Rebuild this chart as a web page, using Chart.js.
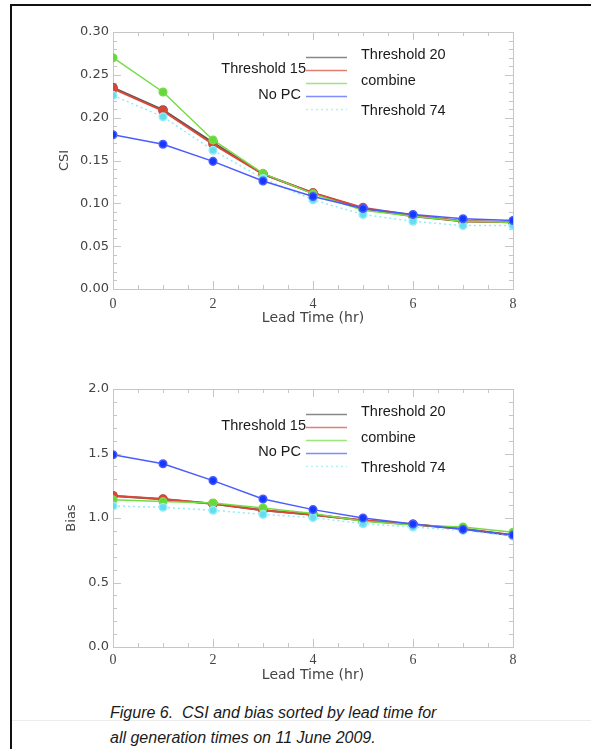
<!doctype html>
<html lang="en">
  <head>
    <meta charset="utf-8">
    <title>CSI and bias by lead time</title>
    <style>
      * { margin: 0; padding: 0; }
      body {
        width: 591px;
        height: 749px;
        position: relative;
        overflow: hidden;
        background: white;
      }
      .frame {
        position: absolute;
        left: 10px;
        top: 4px;
        width: 620px;
        height: 780px;
        border-top: 2px solid #111;
        border-left: 2px solid #111;
      }
      .rule {
        position: absolute;
        left: 12px;
        right: 0;
        top: 720px;
        height: 1px;
        background: #ececec;
      }
      .chartBox { position: absolute; left: 0; }
      .caption {
        position: absolute;
        left: 110px;
        top: 700px;
        font: italic 16px "Liberation Sans", Arial, sans-serif;
        line-height: 25px;
        color: #1a1a1a;
      }
    </style>
  </head>
  <body>
    <div class="frame"></div>
    <div class="rule"></div>
    <div class="chartBox" style="top:0"><canvas id="csiChart" width="591" height="340"></canvas></div>
    <div class="chartBox" style="top:340px"><canvas id="biasChart" width="591" height="360"></canvas></div>
    <div class="caption">Figure 6.&nbsp; CSI and bias sorted by lead time for<br>all generation times on 11 June 2009.</div>

    <script src="https://cdn.jsdelivr.net/npm/chart.js"></script>
    <script>
    const leadTime = [0, 1, 2, 3, 4, 5, 6, 7, 8];
    const xTicks = [0, 2, 4, 6, 8];

    // CSI panel
    const csiT20     = [0.235, 0.209, 0.171, 0.134, 0.112, 0.094, 0.085, 0.079, 0.078];
    const csiT15     = [0.234, 0.208, 0.169, 0.134, 0.112, 0.095, 0.086, 0.079, 0.078];
    const csiCombine = [0.270, 0.230, 0.174, 0.135, 0.111, 0.092, 0.085, 0.079, 0.078];
    const csiNoPC    = [0.180, 0.169, 0.149, 0.126, 0.108, 0.094, 0.087, 0.082, 0.080];
    const csiT74     = [0.226, 0.201, 0.162, 0.129, 0.104, 0.087, 0.079, 0.074, 0.074];
    const csiTicks   = [0.00, 0.05, 0.10, 0.15, 0.20, 0.25, 0.30];

    // Bias panel
    const biasT20     = [1.170, 1.145, 1.110, 1.060, 1.025, 0.980, 0.950, 0.915, 0.865];
    const biasT15     = [1.173, 1.147, 1.111, 1.060, 1.026, 0.982, 0.951, 0.917, 0.868];
    const biasCombine = [1.142, 1.127, 1.116, 1.078, 1.034, 0.974, 0.946, 0.930, 0.889];
    const biasNoPC    = [1.490, 1.420, 1.290, 1.147, 1.065, 1.000, 0.953, 0.912, 0.868];
    const biasT74     = [1.093, 1.083, 1.060, 1.028, 1.003, 0.956, 0.930, 0.904, 0.860];
    const biasTicks   = [0.0, 0.5, 1.0, 1.5, 2.0];

    const labels = ['Threshold 20', 'Threshold 15', 'combine', 'No PC', 'Threshold 74'];

    const pts = vals => leadTime.map((x, i) => ({x: x, y: vals[i]}));

    // first dataset is drawn on top
    function makeDatasets(t20, t15, comb, nopc, t74) {
      return [
        {label: 'No PC', data: pts(nopc), borderColor: '#4a5cff', backgroundColor: '#1438ff', borderWidth: 1.5},
        {label: 'Threshold 74', data: pts(t74), borderColor: '#8fecfb', backgroundColor: '#66dcef', borderWidth: 1.5, borderDash: [2, 3]},
        {label: 'combine', data: pts(comb), borderColor: '#74dc45', backgroundColor: '#66d838', borderWidth: 1.5},
        {label: 'Threshold 15', data: pts(t15), borderColor: '#d9483a', backgroundColor: '#d8442c', borderWidth: 2},
        {label: 'Threshold 20', data: pts(t20), borderColor: '#555555', backgroundColor: '#555555', borderWidth: 2},
      ];
    }

    // light grey box with inward ticks on all four sides
    const frameTicks = {
      id: 'frameTicks',
      beforeDatasetsDraw(chart, args, opts) {
        const {ctx, chartArea: a, scales: {x, y}} = chart;
        ctx.save();
        ctx.strokeStyle = '#c6c6c6';
        ctx.lineWidth = 1;
        ctx.strokeRect(Math.round(a.left) + 0.5, Math.round(a.top) + 0.5,
          Math.round(a.right - a.left), Math.round(a.bottom - a.top));
        ctx.beginPath();
        const ny = Math.round((y.max - y.min) / opts.yMinor);
        for (let i = 0; i <= ny; i++) {
          const py = Math.round(y.getPixelForValue(y.min + i * opts.yMinor)) + 0.5;
          const len = i % 5 === 0 ? 8 : 4;
          ctx.moveTo(a.left, py); ctx.lineTo(a.left + len, py);
          ctx.moveTo(a.right, py); ctx.lineTo(a.right - len, py);
        }
        const nx = Math.round((x.max - x.min) / opts.xMinor);
        for (let i = 0; i <= nx; i++) {
          const px = Math.round(x.getPixelForValue(x.min + i * opts.xMinor)) + 0.5;
          const len = i % 4 === 0 ? 8 : 4;
          ctx.moveTo(px, a.bottom); ctx.lineTo(px, a.bottom - len);
          ctx.moveTo(px, a.top); ctx.lineTo(px, a.top + len);
        }
        ctx.stroke();
        ctx.restore();
      }
    };

    // IDL style legend: labels alternate right / left of a short line
    const sideLegend = {
      id: 'sideLegend',
      afterDatasetsDraw(chart) {
        const {ctx, chartArea: a} = chart;
        const x0 = a.left + 193, x1 = a.left + 234;
        ctx.save();
        ctx.font = '14.5px "Liberation Sans", Arial, sans-serif';
        ctx.fillStyle = '#1a1a1a';
        ctx.textBaseline = 'middle';
        labels.forEach((lab, i) => {
          const ds = chart.data.datasets.find(d => d.label === lab);
          const ly = a.top + 25.5 + 13 * i;
          ctx.strokeStyle = ds.borderColor;
          ctx.globalAlpha = 0.7;
          ctx.lineWidth = 1.5;
          ctx.setLineDash(ds.borderDash || []);
          ctx.beginPath();
          ctx.moveTo(x0, ly); ctx.lineTo(x1, ly);
          ctx.stroke();
          ctx.globalAlpha = 1;
          if (i % 2 === 0) {
            ctx.textAlign = 'left';
            ctx.fillText(lab, a.left + 248, ly + (i === 4 ? 1 : -3));
          } else {
            ctx.textAlign = 'right';
            ctx.fillText(lab, x0 - (i === 1 ? 0 : 5), ly - 2);
          }
        });
        ctx.restore();
      }
    };

    function makeChart(id, datasets, p) {
      return new Chart(document.getElementById(id), {
        type: 'line',
        data: {datasets: datasets},
        options: {
          responsive: false,
          animation: false,
          layout: {padding: {left: 0, right: 78, top: p.top, bottom: 0}},
          elements: {
            line: {tension: 0},
            point: {radius: 3.8, borderWidth: 0, hoverRadius: 3.8}
          },
          plugins: {
            legend: {display: false},
            tooltip: {enabled: false},
            frameTicks: {yMinor: p.yMinor, xMinor: 0.5}
          },
          scales: {
            x: {
              type: 'linear',
              min: 0, max: 8,
              afterFit: s => { s.height = p.xHeight; },
              afterBuildTicks: s => { s.ticks = xTicks.map(v => ({value: v})); },
              grid: {display: false, drawTicks: false},
              border: {display: false},
              ticks: {
                padding: p.xPad,
                color: '#444',
                font: {family: '"Liberation Serif", serif', size: 14},
                callback: v => String(v)
              },
              title: {
                display: true,
                text: 'Lead Time (hr)',
                color: '#444',
                font: {family: '"DejaVu Sans", sans-serif', size: 14},
                padding: {top: 0, bottom: p.xTitlePad}
              }
            },
            y: {
              min: p.yTicks[0], max: p.yTicks[p.yTicks.length - 1],
              afterFit: s => { s.width = 113; },
              afterBuildTicks: s => { s.ticks = p.yTicks.map(v => ({value: v})); },
              grid: {display: false, drawTicks: false},
              border: {display: false},
              ticks: {
                padding: 4,
                color: '#444',
                font: {family: '"DejaVu Sans", sans-serif', size: 13},
                callback: v => v.toFixed(p.digits)
              },
              title: {
                display: true,
                text: p.yTitle,
                color: '#444',
                font: {family: '"DejaVu Sans", sans-serif', size: 13},
                padding: {top: p.yTitlePad, bottom: 0}
              }
            }
          }
        },
        plugins: [frameTicks, sideLegend]
      });
    }

    makeChart('csiChart', makeDatasets(csiT20, csiT15, csiCombine, csiNoPC, csiT74),
      {top: 32, xHeight: 51, xPad: 7, xTitlePad: 13, yTicks: csiTicks, yMinor: 0.01, digits: 2, yTitle: 'CSI', yTitlePad: 57});

    makeChart('biasChart', makeDatasets(biasT20, biasT15, biasCombine, biasNoPC, biasT74),
      {top: 49, xHeight: 53, xPad: 5, xTitlePad: 16.6, yTicks: biasTicks, yMinor: 0.1, digits: 1, yTitle: 'Bias', yTitlePad: 64});
    </script>
  </body>
</html>
